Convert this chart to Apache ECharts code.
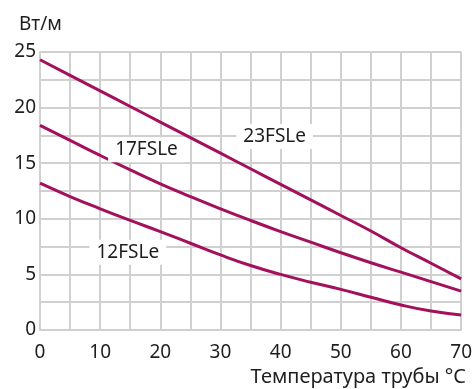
<!DOCTYPE html>
<html>
<head>
<meta charset="utf-8">
<script src="https://cdn.jsdelivr.net/npm/echarts@6/dist/echarts.min.js"></script>
<style>
  html, body { margin: 0; padding: 0; background: #fff; }
  #chart { width: 475px; height: 389px; }
</style>
</head>
<body>
<div id="chart"></div>
<script>
// температура трубы, °C
const temps = [0, 5, 10, 15, 20, 25, 30, 35, 40, 45, 50, 55, 60, 65, 70];
// мощность, Вт/м
const fsle23 = [24.3, 22.9, 21.5, 20.1, 18.7, 17.3, 15.9, 14.5, 13.1, 11.7, 10.3, 8.9, 7.4, 6.0, 4.6];
const fsle17 = [18.4, 17.05, 15.7, 14.4, 13.15, 12.0, 10.9, 9.85, 8.85, 7.9, 6.95, 6.05, 5.2, 4.35, 3.5];
const fsle12 = [13.2, 12.0, 10.9, 9.85, 8.85, 7.8, 6.75, 5.8, 5.0, 4.3, 3.65, 2.95, 2.25, 1.7, 1.35];
const seriesNames = ['23FSLe', '17FSLe', '12FSLe'];
// где стоят подписи кривых (в единицах осей)
const labelAt = [[39, 17.4], [17.7, 16.2], [14.6, 7.0]];

const font = '"Noto Sans", sans-serif';
const textColor = '#1e1e1e';
const lineColor = '#a3105c';
const gridColor = '#d0d0d0';

function makeSeries(name, values, pos) {
    return {
        name: name,
        type: 'line',
        smooth: true,
        symbol: 'none',
        data: temps.map(function (t, i) { return [t, values[i]]; }),
        lineStyle: { color: lineColor, width: 3 },
        markPoint: {
            symbol: 'rect',
            symbolSize: 1,
            itemStyle: { color: 'rgba(0,0,0,0)' },
            label: {
                show: true,
                position: 'inside',
                formatter: name,
                color: textColor,
                fontFamily: font,
                fontSize: 19,
                backgroundColor: '#fff',
                padding: [3, 7, 3, 7]
            },
            data: [{ coord: pos }]
        }
    };
}

const chart = echarts.init(document.getElementById('chart'));
chart.setOption({
    animation: false,
    title: [
        { text: 'Вт/м', left: 14, top: 10,
          textStyle: { fontFamily: font, fontSize: 19, fontWeight: 'normal', color: textColor } },
        { text: 'Температура трубы °C', right: 4, top: 362,
          textStyle: { fontFamily: font, fontSize: 20, fontWeight: 'normal', color: textColor } }
    ],
    grid: { left: 40, right: 11, top: 52, bottom: 59 },
    xAxis: {
        type: 'value',
        min: 0,
        max: 70,
        interval: 5,
        axisLine: { show: true, lineStyle: { color: gridColor, width: 2 } },
        axisTick: { show: false },
        axisLabel: {
            margin: 13,
            fontFamily: font, fontSize: 19, color: textColor,
            formatter: function (v) { return v % 10 === 0 ? String(v) : ''; }
        },
        splitLine: { show: true, lineStyle: { color: gridColor, width: 2 } }
    },
    yAxis: {
        type: 'value',
        min: 0,
        max: 25,
        interval: 2.5,
        axisLine: { show: true, lineStyle: { color: gridColor, width: 2 } },
        axisTick: { show: false },
        axisLabel: {
            margin: 4,
            padding: [5, 0, 0, 0],
            fontFamily: font, fontSize: 19, color: textColor,
            formatter: function (v) { return v % 5 === 0 ? String(v) : ''; }
        },
        splitLine: { show: true, lineStyle: { color: gridColor, width: 2 } }
    },
    series: [
        makeSeries(seriesNames[0], fsle23, labelAt[0]),
        makeSeries(seriesNames[1], fsle17, labelAt[1]),
        makeSeries(seriesNames[2], fsle12, labelAt[2])
    ]
});
</script>
</body>
</html>
